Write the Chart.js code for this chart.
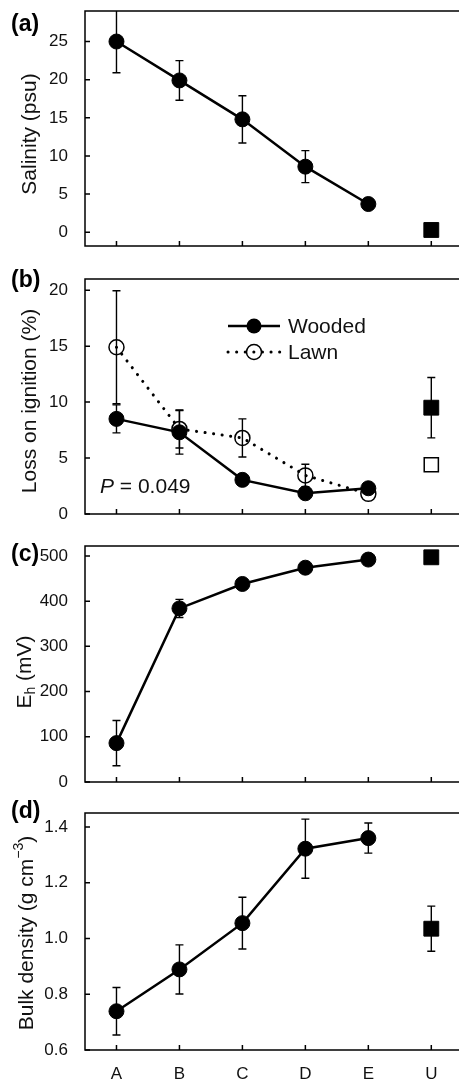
<!DOCTYPE html>
<html>
<head>
<meta charset="utf-8">
<script src="https://cdn.jsdelivr.net/npm/chart.js@4.4.0/dist/chart.umd.min.js"></script>
<style>
html, body { margin: 0; padding: 0; background: #fff; overflow: hidden; width: 459px; height: 1082px; }
canvas { position: absolute; left: 0; }
</style>
</head>
<body>
<canvas id="ca" width="459" height="268" style="top:0px"></canvas>
<canvas id="cb" width="459" height="268" style="top:268px"></canvas>
<canvas id="cc" width="459" height="262" style="top:536px"></canvas>
<canvas id="cd" width="459" height="284" style="top:798px"></canvas>
<script>
// sites along the transect, U = upland reference
var sites = ["A", "B", "C", "D", "E", "U"];

// (a) salinity, psu
var salinity    = [25.0, 19.9, 14.8, 8.6, 3.7, 0.3];
var salinityErr = [4.1, 2.6, 3.1, 2.1, 0, 0];
var salinityTicks = [0, 5, 10, 15, 20, 25];

// (b) loss on ignition, %
var loiWooded    = [8.5, 7.3, 3.05, 1.85, 2.3, 9.5];
var loiWoodedErr = [1.25, 1.95, 0, 0, 0, 2.7];
var loiLawn      = [14.9, 7.6, 6.8, 3.45, 1.8, 4.4];
var loiLawnErr   = [5.05, 1.7, 1.7, 1.0, 0, 0];
var loiTicks = [0, 5, 10, 15, 20];

// (c) Eh, mV
var eh    = [86, 384, 438, 474, 492, 497];
var ehErr = [50, 20, 0, 0, 0, 12];
var ehTicks = [0, 100, 200, 300, 400, 500];

// (d) bulk density, g cm-3
var bulk    = [0.739, 0.889, 1.055, 1.322, 1.36, 1.035];
var bulkErr = [0.085, 0.088, 0.093, 0.106, 0.054, 0.081];
var bulkTicks = [0.6, 0.8, 1.0, 1.2, 1.4];

var FONT = "'Liberation Sans', Arial, sans-serif";
Chart.defaults.font.family = FONT;
Chart.defaults.color = '#111';

// x positions are site indexes on a linear scale (right edge of the frame is cut off)
function transect(arr) {
  return arr.slice(0, 5).map(function (v, i) { return { x: i, y: v }; });
}
function upland(arr) { return [{ x: 5, y: arr[5] }]; }
function errsFor(arr, from, to) { return arr.slice(from, to); }

function woodedLine(vals, errs, label) {
  return {
    label: label || 'Wooded', inLegend: !!label,
    data: transect(vals), errors: errsFor(errs, 0, 5),
    borderColor: '#000', borderWidth: 2.5,
    pointRadius: 7.5, pointBackgroundColor: '#000', pointBorderColor: '#000', pointBorderWidth: 1
  };
}
function woodedU(vals, errs) {
  return {
    label: 'U', data: upland(vals), errors: errsFor(errs, 5, 6), showLine: false,
    pointStyle: 'rect', pointRadius: 10.5,
    pointBackgroundColor: '#000', pointBorderColor: '#000', pointBorderWidth: 1
  };
}

function makeDeco(p) {
  return {
    id: 'deco',
    beforeDatasetsDraw: function (chart) {
      var ctx = chart.ctx, ys = chart.scales.y, a = chart.chartArea;
      ctx.save();
      ctx.beginPath();
      ctx.rect(a.left, a.top, a.right - a.left, a.bottom - a.top);
      ctx.clip();
      ctx.strokeStyle = '#000';
      ctx.lineWidth = 1.4;
      chart.data.datasets.forEach(function (ds, di) {
        if (!ds.errors) return;
        var meta = chart.getDatasetMeta(di);
        ds.data.forEach(function (pt, j) {
          var e = ds.errors[j];
          if (pt.y == null || !e) return;
          var x = meta.data[j].x;
          var y1 = ys.getPixelForValue(pt.y + e), y2 = ys.getPixelForValue(pt.y - e);
          ctx.beginPath();
          ctx.moveTo(x, y1); ctx.lineTo(x, y2);
          ctx.moveTo(x - 4, y1); ctx.lineTo(x + 4, y1);
          ctx.moveTo(x - 4, y2); ctx.lineTo(x + 4, y2);
          ctx.stroke();
        });
      });
      ctx.restore();
    },
    afterDraw: function (chart) {
      var ctx = chart.ctx, a = chart.chartArea, xs = chart.scales.x, ys = chart.scales.y;
      ctx.save();
      ctx.strokeStyle = '#000';
      ctx.lineWidth = 1.5;
      // frame: left, bottom, top (right side lies outside the picture)
      ctx.beginPath();
      ctx.moveTo(chart.width, a.top); ctx.lineTo(a.left, a.top);
      ctx.lineTo(a.left, a.bottom); ctx.lineTo(chart.width, a.bottom);
      ctx.stroke();
      // inward ticks
      ctx.beginPath();
      xs.ticks.forEach(function (t, i) {
        var x = xs.getPixelForTick(i);
        ctx.moveTo(x, a.bottom); ctx.lineTo(x, a.bottom - 5);
      });
      ys.ticks.forEach(function (t, i) {
        var y = ys.getPixelForTick(i);
        ctx.moveTo(a.left, y); ctx.lineTo(a.left + 5, y);
      });
      ctx.stroke();

      // panel letter
      ctx.fillStyle = '#000';
      ctx.font = 'bold 23px ' + FONT;
      ctx.textAlign = 'left';
      ctx.textBaseline = 'middle';
      ctx.fillText(p.letter, 11, p.letterY);

      // rotated axis title with sub/superscripts
      ctx.save();
      ctx.translate(p.titleX, p.titleY);
      ctx.rotate(-Math.PI / 2);
      var total = 0;
      p.title.forEach(function (s) {
        ctx.font = (s.sub || s.sup ? '14px ' : '21px ') + FONT;
        s.w = ctx.measureText(s.t).width;
        total += s.w;
      });
      var cx = -total / 2;
      ctx.fillStyle = '#111';
      p.title.forEach(function (s) {
        ctx.font = (s.sub || s.sup ? '14px ' : '21px ') + FONT;
        var dy = s.sub ? 6 : (s.sup ? -8 : 0);
        ctx.fillText(s.t, cx, dy);
        cx += s.w;
      });
      ctx.restore();

      // legend
      if (p.legend) {
        var rowY = p.legend.y;
        chart.data.datasets.forEach(function (ds) {
          if (!ds.inLegend) return;
          var x0 = p.legend.x, x1 = x0 + 52, xm = x0 + 26;
          ctx.save();
          ctx.strokeStyle = '#000';
          ctx.lineWidth = ds.borderWidth;
          ctx.lineCap = ds.borderCapStyle || 'butt';
          ctx.setLineDash(ds.borderDash || []);
          ctx.beginPath(); ctx.moveTo(x0, rowY); ctx.lineTo(x1, rowY); ctx.stroke();
          ctx.setLineDash([]);
          ctx.beginPath(); ctx.arc(xm, rowY, ds.pointRadius, 0, Math.PI * 2);
          if (ds.pointBackgroundColor !== 'rgba(0,0,0,0)') {
            ctx.fillStyle = '#000'; ctx.fill();
          } else {
            ctx.lineWidth = ds.pointBorderWidth; ctx.stroke();
          }
          ctx.fillStyle = '#111';
          ctx.font = '21px ' + FONT;
          ctx.textBaseline = 'middle';
          ctx.fillText(ds.label, x1 + 8, rowY + 1);
          ctx.restore();
          rowY += p.legend.step;
        });
      }

      // significance note
      if (p.note) {
        ctx.fillStyle = '#111';
        ctx.textBaseline = 'middle';
        ctx.font = 'italic 21px ' + FONT;
        ctx.fillText(p.note.italic, p.note.x, p.note.y);
        var w = ctx.measureText(p.note.italic).width;
        ctx.font = '21px ' + FONT;
        ctx.fillText(p.note.rest, p.note.x + w, p.note.y);
      }
      ctx.restore();
    }
  };
}

function buildChart(p) {
  new Chart(document.getElementById(p.id), {
    type: 'line',
    data: { datasets: p.datasets },
    options: {
      responsive: false,
      animation: false,
      events: [],
      layout: { autoPadding: false, padding: { top: p.padTop, right: 0, left: 0, bottom: 0 } },
      plugins: { legend: { display: false }, tooltip: { enabled: false } },
      scales: {
        x: {
          type: 'linear', min: -0.5, max: 5.44,
          grid: { display: false }, border: { display: false },
          ticks: {
            display: p.showX, font: { size: 17 }, padding: 6, color: '#111', maxRotation: 0,
            callback: function (v) { return sites[v]; }
          },
          afterBuildTicks: function (s) { s.ticks = sites.map(function (c, i) { return { value: i }; }); },
          afterFit: function (s) { s.height = p.xHeight; s.paddingLeft = 0; s.paddingRight = 0; }
        },
        y: {
          type: 'linear', min: p.min, max: p.max,
          grid: { display: false }, border: { display: false },
          ticks: {
            font: { size: 17 }, padding: 9, color: '#111',
            callback: function (v) { return p.decimals ? v.toFixed(p.decimals) : String(v); }
          },
          afterBuildTicks: function (s) { s.ticks = p.ticks.map(function (v) { return { value: v }; }); },
          afterFit: function (s) { s.width = 85; s.paddingTop = 0; s.paddingBottom = 0; }
        }
      }
    },
    plugins: [makeDeco(p)]
  });
}

buildChart({
  id: 'ca', padTop: 11, xHeight: 22, showX: false,
  min: -1.8, max: 29, ticks: salinityTicks,
  letter: '(a)', letterY: 25,
  title: [{ t: 'Salinity (psu)' }], titleX: 30, titleY: 134,
  datasets: [woodedLine(salinity, salinityErr), woodedU(salinity, salinityErr)]
});

buildChart({
  id: 'cb', padTop: 11, xHeight: 22, showX: false,
  min: 0, max: 21, ticks: loiTicks,
  letter: '(b)', letterY: 13,
  title: [{ t: 'Loss on ignition (%)' }], titleX: 30, titleY: 133,
  legend: { x: 228, y: 58, step: 26 },
  note: { italic: 'P', rest: ' = 0.049', x: 100, y: 219 },
  datasets: [
    woodedLine(loiWooded, loiWoodedErr, 'Wooded'),
    {
      label: 'Lawn', inLegend: true,
      data: transect(loiLawn), errors: errsFor(loiLawnErr, 0, 5),
      borderColor: '#000', borderWidth: 3, borderDash: [0.1, 8.5], borderCapStyle: 'round',
      pointRadius: 7.5, pointBackgroundColor: 'rgba(0,0,0,0)', pointBorderColor: '#000', pointBorderWidth: 1.5
    },
    woodedU(loiWooded, loiWoodedErr),
    {
      label: 'Lawn U', data: upland(loiLawn), errors: errsFor(loiLawnErr, 5, 6), showLine: false,
      pointStyle: 'rect', pointRadius: 10,
      pointBackgroundColor: 'rgba(0,0,0,0)', pointBorderColor: '#000', pointBorderWidth: 1.5
    }
  ]
});

buildChart({
  id: 'cc', padTop: 10, xHeight: 16, showX: false,
  min: 0, max: 522, ticks: ehTicks,
  letter: '(c)', letterY: 19,
  title: [{ t: 'E' }, { t: 'h', sub: true }, { t: ' (mV)' }], titleX: 25, titleY: 136,
  datasets: [woodedLine(eh, ehErr), woodedU(eh, ehErr)]
});

buildChart({
  id: 'cd', padTop: 15, xHeight: 32, showX: true,
  min: 0.6, max: 1.45, ticks: bulkTicks, decimals: 1,
  letter: '(d)', letterY: 14,
  title: [{ t: 'Bulk density (g cm' }, { t: '\u22123', sup: true }, { t: ')' }], titleX: 27, titleY: 135,
  datasets: [woodedLine(bulk, bulkErr), woodedU(bulk, bulkErr)]
});
</script>
</body>
</html>
